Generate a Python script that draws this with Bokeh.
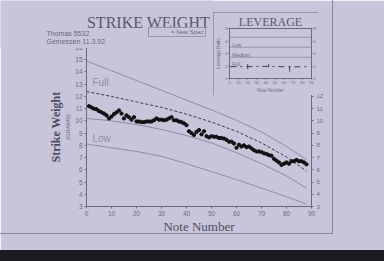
from bokeh.plotting import figure
from bokeh.models import (Range1d, LinearAxis, FixedTicker, Legend, LegendItem,
                          Div, Column, Span)
from bokeh.core.properties import value
from bokeh.embed import file_html
from bokeh.resources import INLINE

# ---------------- data ----------------
notes = list(range(1, 89))
weights = [11.2, 11.1, 11.0, 10.95, 10.8, 10.7, 10.6, 10.45, 10.2, 10.35,
           10.55, 10.7, 10.85, 10.6, 10.2, 10.45, 10.3, 10.1, 10.3, 9.95,
           9.95, 9.9, 9.9, 9.95, 9.95, 9.95, 10.05, 10.2, 10.1, 10.1,
           10.05, 10.1, 10.2, 10.3, 10.05, 10.05, 9.95, 9.9, 9.8, 9.65,
           9.15, 9.0, 8.85, 9.1, 9.25, 8.9, 9.15, 8.75, 8.65, 8.75,
           8.7, 8.7, 8.6, 8.6, 8.55, 8.45, 8.3, 8.3, 8.15, 7.8,
           8.05, 7.9, 8.0, 7.85, 7.9, 7.75, 7.6, 7.5, 7.5, 7.45,
           7.35, 7.3, 7.2, 7.15, 6.9, 6.75, 6.6, 6.4, 6.5, 6.6,
           6.5, 6.7, 6.7, 6.8, 6.7, 6.7, 6.6, 6.45]

curve_x = [0, 10, 20, 30, 40, 50, 60, 70, 80, 88]
full_curve = [14.9, 14.1, 13.3, 12.5, 11.7, 10.9, 10.05, 9.1, 7.9, 6.85]
spec_curve = [12.4, 12.0, 11.55, 11.1, 10.55, 9.9, 9.15, 8.2, 7.05, 5.9]
low_upper = [10.2, 10.0, 9.7, 9.3, 8.8, 8.2, 7.4, 6.5, 5.5, 4.5]
low_lower = [8.1, 7.8, 7.5, 7.1, 6.5, 5.85, 5.2, 4.5, 3.8, 3.2]

curve_labels = ["Full", "Low"]
curve_label_x = [2.4, 2.4]
curve_label_y = [13.1, 8.55]

x_ticks = [0, 10, 20, 30, 40, 50, 60, 70, 80, 90]
y_ticks = list(range(3, 17))
right_ticks = list(range(3, 13))

# header texts (title block)
title_text = ["STRIKE WEIGHT"]
info_text = ["Thomas 5532", "Gemessen 11.3.92"]
legend_text = "= New Spec"

# leverage inset
lev_x = [1, 20, 43, 66, 88]
lev_y = [1.9, 1.9, 1.95, 1.85, 1.9]
lev_mx = [20, 43, 66]
lev_lo = [1.5, 1.8, 1.1]
lev_hi = [2.3, 2.3, 2.0]
lev_levels = [6.6, 5.0, 3.4]
lev_names = ["Low", "Medium", "Full"]
lev_name_y = [5.3, 3.7, 2.3]
lev_ticks = [0, 2, 4, 6, 8]

PAPER = "#c8c5db"
INK = "#6a687c"
DARK = "#4e4c5c"
LINE = "#8e8ca0"
SPEC = "#3a3946"

# ---------------- main plot ----------------
p = figure(width=384, height=250, x_range=Range1d(0, 90), y_range=Range1d(3, 16),
           output_backend="svg", toolbar_location=None,
           min_border_left=86, min_border_right=73, min_border_top=47, min_border_bottom=44,
           background_fill_color=PAPER, border_fill_color=PAPER, outline_line_color=None)
p.grid.visible = False

for ax in (p.xaxis[0], p.yaxis[0]):
    ax.axis_line_color = INK
    ax.major_tick_line_color = INK
    ax.major_tick_out = 2
    ax.major_tick_in = 0
    ax.minor_tick_line_color = None
    ax.major_label_text_color = INK
    ax.major_label_text_font = "Liberation Sans"
    ax.major_label_standoff = 2

p.xaxis.ticker = FixedTicker(ticks=x_ticks)
p.xaxis.major_label_text_font_size = "6.5px"
p.xaxis.axis_label = "Note Number"
p.xaxis.axis_label_text_font = "Liberation Serif"
p.xaxis.axis_label_text_font_style = "normal"
p.xaxis.axis_label_text_font_size = "13px"
p.xaxis.axis_label_text_color = DARK
p.xaxis.axis_label_standoff = 0

p.yaxis.ticker = FixedTicker(ticks=y_ticks)
p.yaxis.major_label_text_font_size = "6.5px"
p.yaxis.axis_label = "(GRAMS)"
p.yaxis.axis_label_text_font = "Liberation Sans"
p.yaxis.axis_label_text_font_style = "normal"
p.yaxis.axis_label_text_font_size = "6px"
p.yaxis.axis_label_text_color = INK
p.yaxis.axis_label_standoff = 1

outer = LinearAxis(ticker=FixedTicker(ticks=[]), axis_line_color=None,
                   major_tick_line_color=None, minor_tick_line_color=None,
                   major_tick_out=0, major_label_standoff=0,
                   major_label_text_font_size="0px",
                   axis_label="Strike Weight", axis_label_text_font="Liberation Serif",
                   axis_label_text_font_style="bold", axis_label_text_font_size="12px",
                   axis_label_text_color=DARK, axis_label_standoff=0)
p.add_layout(outer, "left")

right = LinearAxis(ticker=FixedTicker(ticks=right_ticks), axis_line_color=INK,
                   major_tick_line_color=INK, major_tick_out=2, major_tick_in=0,
                   minor_tick_line_color=None, major_label_text_font_size="6px",
                   major_label_text_color=INK, major_label_standoff=3)
p.add_layout(right, "right")

p.line(curve_x, full_curve, color=LINE, line_width=1)
p.line(curve_x, low_upper, color=LINE, line_width=1)
p.line(curve_x, low_lower, color=LINE, line_width=1)
p.line(curve_x, spec_curve, color=SPEC, line_width=1, line_dash="3 2")
p.scatter(notes, weights, size=3.3, color="#111111", marker="circle")

p.text(x=curve_label_x, y=curve_label_y, text=curve_labels,
       text_font=value("Liberation Sans"), text_font_size=value("10px"),
       text_color=LINE, text_baseline="middle", text_align="left")

band = Div(width=384, height=11, margin=(0, 0, 0, 0),
           styles={"background-color": "#1b1b22"})
main = Column(children=[p, band], spacing=0)

# ---------------- header block (title, info, legend) ----------------
hdr = figure(width=213, height=48, x_range=Range1d(0, 213), y_range=Range1d(48, 0),
             output_backend="svg", toolbar_location=None,
             x_axis_location=None, y_axis_location=None,
             min_border_left=0, min_border_right=0, min_border_top=0, min_border_bottom=0,
             background_fill_color=PAPER, border_fill_color=PAPER, outline_line_color=None,
             styles={"position": "absolute", "left": "0px", "top": "0px", "z-index": "4"})
hdr.grid.visible = False
hdr.text(x=[148], y=[21.5], text=title_text, text_font=value("Liberation Serif"),
         text_font_size=value("16px"), text_color="#5a5868",
         text_align="center", text_baseline="middle")
hdr.text(x=[46, 46], y=[33, 40.5], text=info_text, text_font=value("Liberation Sans"),
         text_font_size=value("7px"), text_color=INK,
         text_align="left", text_baseline="middle")
spec_sample = hdr.line([], [], color=SPEC, line_width=1, line_dash="3 2")
hleg = Legend(items=[LegendItem(label=legend_text, renderers=[spec_sample])],
              location=(148, 11), border_line_color=INK, border_line_width=1,
              background_fill_color=PAPER, background_fill_alpha=1,
              label_text_font_size="6px", label_text_color=INK,
              glyph_height=5, glyph_width=18, label_height=5,
              padding=1, margin=0, spacing=0, label_standoff=3)
hdr.add_layout(hleg)

# ---------------- leverage inset ----------------
ins = figure(width=105, height=83, x_range=Range1d(0, 90), y_range=Range1d(0, 8),
             output_backend="svg", toolbar_location=None,
             min_border_left=4, min_border_right=4, min_border_top=2, min_border_bottom=2,
             background_fill_color=PAPER, border_fill_color=PAPER, outline_line_color=INK,
             styles={"position": "absolute", "left": "213px", "top": "12px",
                     "z-index": "5", "outline": "1px solid #8a8898",
                     "outline-offset": "-1px", "overflow": "hidden"})
ins.grid.visible = False
ins.title.text = "LEVERAGE"
ins.title.align = "center"
ins.title.text_font = "Liberation Serif"
ins.title.text_font_size = "12px"
ins.title.text_font_style = "normal"
ins.title.text_color = "#5a5868"
ins.title.standoff = 0

for ax in (ins.xaxis[0], ins.yaxis[0]):
    ax.axis_line_color = INK
    ax.major_tick_line_color = INK
    ax.major_tick_out = 1
    ax.major_tick_in = 0
    ax.minor_tick_line_color = None
    ax.major_label_text_color = INK
    ax.major_label_text_font_size = "4px"
    ax.major_label_standoff = 1
    ax.axis_label_text_font_size = "4.5px"
    ax.axis_label_text_font_style = "normal"
    ax.axis_label_text_color = INK
    ax.axis_label_standoff = 1
ins.xaxis.ticker = FixedTicker(ticks=x_ticks)
ins.xaxis.axis_label = "Note Number"
ins.yaxis.ticker = FixedTicker(ticks=lev_ticks)
ins.yaxis.axis_label = "Leverage Ratio"
ins_right = LinearAxis(ticker=FixedTicker(ticks=lev_ticks), axis_line_color=INK,
                       major_tick_line_color=INK, major_tick_out=1, major_tick_in=0,
                       minor_tick_line_color=None, major_label_text_font_size="4px",
                       major_label_text_color=INK, major_label_standoff=1)
ins.add_layout(ins_right, "right")

for lv in lev_levels:
    ins.add_layout(Span(location=lv, dimension="width", line_color=LINE, line_width=0.8))
ins.text(x=[3, 3, 3], y=lev_name_y, text=lev_names, text_font=value("Liberation Sans"),
         text_font_size=value("5px"), text_color=INK, text_baseline="middle")
ins.line(lev_x, lev_y, color="#222222", line_width=0.8, line_dash="dashdot")
ins.segment(x0=lev_mx, y0=lev_lo, x1=lev_mx, y1=lev_hi, color="#222222", line_width=0.8)

# outer page frame: right and bottom rules of the printed chart box
rule_v = Div(width=1, height=234, margin=(0, 0, 0, 0),
             styles={"position": "absolute", "left": "332px", "top": "0px",
                     "z-index": "6", "background-color": "#8a8898"})
rule_h = Div(width=333, height=1, margin=(0, 0, 0, 0),
             styles={"position": "absolute", "left": "0px", "top": "233px",
                     "z-index": "6", "background-color": "#8a8898"})

open("out.html", "w").write(file_html([main, hdr, ins, rule_v, rule_h], INLINE))
